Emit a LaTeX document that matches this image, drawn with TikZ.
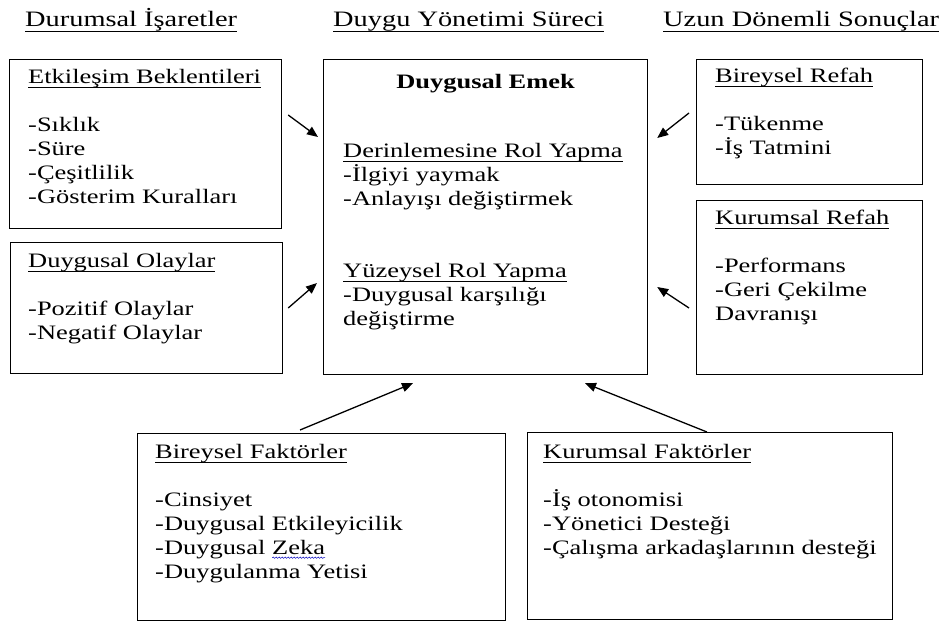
\documentclass[tikz,border=0pt]{standalone}
\usepackage{fontspec}
\setmainfont{Liberation Serif}[FakeStretch=1.29]
\usetikzlibrary{arrows.meta,decorations.pathmorphing}
\newsavebox\ulbox
\newcommand\ulx[2][1.1pt]{\sbox\ulbox{#2}\rlap{\smash{\rule[-5pt]{\wd\ulbox}{#1}}}\usebox\ulbox}
\newcommand\fl{\rule{0pt}{18pt}}
\newcommand\sqg[1]{\tikz[baseline=(zk.base)]{\node[inner sep=0pt,outer sep=0pt,anchor=base] (zk) at (0,0) {#1};\draw[blue!75!black,line width=0.5pt,decorate,decoration={snake,amplitude=0.7pt,segment length=3pt}] ([yshift=-3.5pt]zk.base west) -- ([yshift=-3.5pt]zk.base east);}}
\begin{document}
\begin{tikzpicture}[x=1pt,y=-1pt,
  box/.style={draw,line width=1.2pt,inner sep=0pt,anchor=north west},
  txt/.style={anchor=north west,inner sep=0pt,align=left,font=\fontsize{20.5pt}{24pt}\selectfont},
  hdr/.style={anchor=base west,inner sep=0pt,font=\fontsize{22pt}{26pt}\selectfont},
  arr/.style={line width=1.3pt,-{Triangle[length=11pt,width=9pt]}}]
\useasboundingbox (0,0) rectangle (943,621);
% headers
\node[hdr] (h1) at (25,27) {\ulx[1.4pt]{Durumsal İşaretler}};
\node[hdr] (h2) at (333,27) {\ulx[1.4pt]{Duygu Yönetimi Süreci}};
\node[hdr] (h3) at (663,27) {\ulx[1.4pt]{Uzun Dönemli Sonuçlar}};
% boxes
\node[box,minimum width=272pt,minimum height=169pt] (a) at (9,59) {};
\node[box,minimum width=272pt,minimum height=131pt] (b) at (10,242) {};
\node[box,minimum width=324pt,minimum height=315pt] (c) at (323,59) {};
\node[box,minimum width=226pt,minimum height=125pt] (d) at (696,59) {};
\node[box,minimum width=226pt,minimum height=174pt] (e) at (696,200) {};
\node[box,minimum width=368pt,minimum height=187pt] (f) at (137,433) {};
\node[box,minimum width=365pt,minimum height=187pt] (g) at (527,432) {};
% texts
\node[txt] (ta) at ([shift={(19pt,-6pt)}]a.north west) {\fl\ulx{Etkileşim Beklentileri}\\[24pt]-Sıklık\\-Süre\\-Çeşitlilik\\-Gösterim Kuralları};
\node[txt] (tb) at ([shift={(18pt,-7pt)}]b.north west) {\fl\ulx{Duygusal Olaylar}\\[24pt]-Pozitif Olaylar\\-Negatif Olaylar};
\node[txt,anchor=base] (tc0) at ([shift={(0pt,-29pt)}]c.north) {\bfseries Duygusal Emek};
\node[txt] (tc) at ([shift={(20pt,-80pt)}]c.north west) {\fl\ulx{Derinlemesine Rol Yapma}\\-İlgiyi yaymak\\-Anlayışı değiştirmek\\[48pt]\ulx{Yüzeysel Rol Yapma}\\-Duygusal karşılığı\\değiştirme};
\node[txt] (td) at ([shift={(19pt,-5pt)}]d.north west) {\fl\ulx{Bireysel Refah}\\[24pt]-Tükenme\\-İş Tatmini};
\node[txt] (te) at ([shift={(19pt,-6pt)}]e.north west) {\fl\ulx{Kurumsal Refah}\\[24pt]-Performans\\-Geri Çekilme\\Davranışı};
\node[txt] (tf) at ([shift={(18pt,-7pt)}]f.north west) {\fl\ulx{Bireysel Faktörler}\\[24pt]-Cinsiyet\\-Duygusal Etkileyicilik\\-Duygusal \sqg{Zeka}\\-Duygulanma Yetisi};
\node[txt] (tg) at ([shift={(16pt,-8pt)}]g.north west) {\fl\ulx{Kurumsal Faktörler}\\[24pt]-İş otonomisi\\-Yönetici Desteği\\-Çalışma arkadaşlarının desteği};
% arrows
\draw[arr] ([shift={(6pt,-56pt)}]a.north east) -- ([shift={(-5pt,-78pt)}]c.north west);
\draw[arr] ([shift={(5pt,-66pt)}]b.north east) -- ([shift={(-6pt,-224pt)}]c.north west);
\draw[arr] ([shift={(-7pt,-54pt)}]d.north west) -- ([shift={(9pt,-79pt)}]c.north east);
\draw[arr] ([shift={(-7pt,-108pt)}]e.north west) -- ([shift={(9pt,-228pt)}]c.north east);
\draw[arr] ([shift={(163pt,3pt)}]f.north west) -- ([shift={(90pt,-8pt)}]c.south west);
\draw[arr] ([shift={(180pt,0pt)}]g.north west) -- ([shift={(262pt,-8pt)}]c.south west);
\end{tikzpicture}
\end{document}
